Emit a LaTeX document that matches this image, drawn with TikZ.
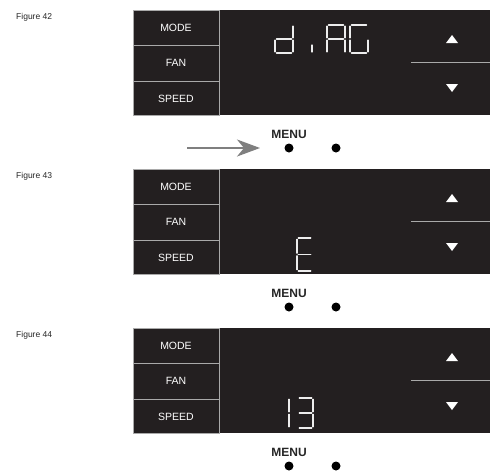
\documentclass[tikz,border=0pt]{standalone}
\usepackage{fontspec}
\setmainfont{Liberation Sans}
\usetikzlibrary{arrows.meta}
\definecolor{panel}{HTML}{231F20}
\definecolor{edge}{HTML}{A9A9A9}
\definecolor{segc}{HTML}{EDEDED}
\definecolor{arrowgray}{HTML}{7F7F7F}

\def\SEGa{(0.08,0)--(0.92,0)}
\def\SEGb{(1,0.04)--(1,0.46)}
\def\SEGc{(1,0.54)--(1,0.96)}
\def\SEGd{(0.08,1)--(0.92,1)}
\def\SEGe{(0,0.54)--(0,0.96)}
\def\SEGf{(0,0.04)--(0,0.46)}
\def\SEGg{(0.08,0.5)--(0.92,0.5)}
\newcommand\segdraw[1]{\draw[segline] #1;}
\newcommand\sevenseg[5]{%
  \begin{scope}[shift={(#1,#2)},xscale=#3,yscale=#4]
    \foreach \s in {#5}{\edef\segtmp{\csname SEG\s\endcsname}\expandafter\segdraw\expandafter{\segtmp}}
  \end{scope}}

\tikzset{
  segline/.style={draw=segc, line width=1.2pt, line cap=round},
  sepline/.style={draw=edge, line width=0.8pt},
  btnbox/.style={fill=panel, draw=edge, line width=0.8pt},
  btntext/.style={text=white, inner sep=0pt, font=\fontsize{10.5}{12}\selectfont},
  figlabel/.style={text=black!85, inner sep=0pt, anchor=west, font=\fontsize{8.5}{10}\selectfont},
  menutext/.style={text=black!85, inner sep=0pt, font=\bfseries\fontsize{12}{14}\selectfont},
  menudot/.style={circle, fill=black, inner sep=0pt, minimum size=9pt},
  menuarrow/.style={draw=arrowgray, line width=1.5pt, -{Stealth[length=23pt,width=17pt,inset=7pt]}},
  arrowfill/.style={fill=white}
}

\newcommand\panel[2]{%
  \fill[panel] (219,#1) rectangle (411,#1+105);
  \fill[panel] (411,#1) rectangle (490,#1+105);
  \draw[sepline] (411,#1+52) -- (490,#1+52);
  \draw[btnbox] (133,#1) rectangle (219,#1+105);
  \draw[sepline] (133,#1+35) -- (219,#1+35);
  \draw[sepline] (133,#1+71) -- (219,#1+71);
  \node[btntext] (mode#2) at (176,#1+18) {MODE};
  \node[btntext] (fan#2) at (176,#1+53) {FAN};
  \node[btntext] (speed#2) at (176,#1+89) {SPEED};
  \fill[arrowfill] (446,#1+33) -- (458,#1+33) -- (452,#1+25) -- cycle;
  \fill[arrowfill] (446,#1+74) -- (458,#1+74) -- (452,#1+82) -- cycle;
  \node[figlabel] (fig#2) at (16,#1+7) {Figure #2};
  \node[menutext] (menu#2) at (289,#1+124.5) {MENU};
  \node[menudot] (dl#2) at (289,#1+138) {};
  \node[menudot] (dr#2) at (336,#1+138) {};
}

\begin{document}
\begin{tikzpicture}[x=1pt,y=-1pt]
  \useasboundingbox[fill=white] (0,0) rectangle (490,472);
  \panel{10}{42}
  \panel{169}{43}
  \panel{328}{44}
  % Figure 42 display: d i A G
  \sevenseg{275}{25}{18}{28}{b,c,d,e,g}
  \draw[segline] (312,45) -- (312,52);
  \sevenseg{327}{25}{18}{28}{a,b,c,e,f,g}
  \sevenseg{350}{25}{18}{28}{a,c,d,e,f}
  % Figure 43 display: E
  \sevenseg{297}{238}{15}{33}{a,d,e,f,g}
  % Figure 44 display: 13
  \sevenseg{274}{398}{15}{30}{b,c}
  \sevenseg{298}{398}{15}{30}{a,b,c,d,g}
  % arrow to MENU
  \coordinate (arrtail) at (187,148);
  \coordinate (arrtip) at (260,148);
  \draw[menuarrow] (arrtail) -- (arrtip);
\end{tikzpicture}
\end{document}
